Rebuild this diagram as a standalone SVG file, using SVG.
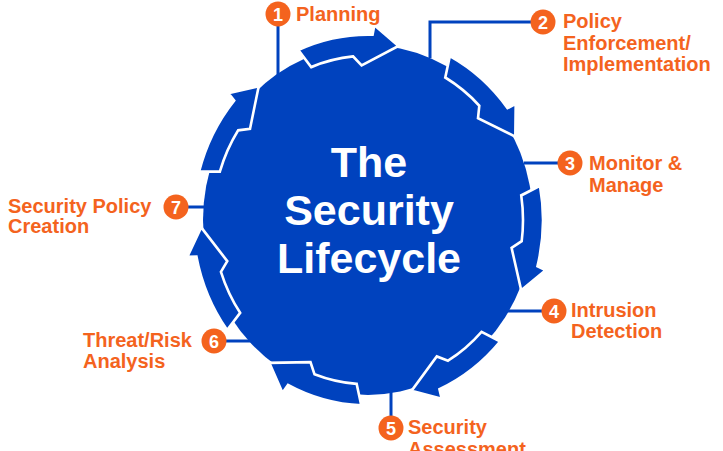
<svg xmlns="http://www.w3.org/2000/svg" xmlns:xlink="http://www.w3.org/1999/xlink" width="723" height="451" viewBox="0 0 723 451">
<style>
.blue{fill:#0042BE}
.arr{fill:#0042BE;stroke:#fff;stroke-width:2.6;stroke-linejoin:miter}
.conn{stroke:#0042BE;stroke-width:3;fill:none}
.badge{fill:#F4631E}
.lbl{font-family:"Liberation Sans",Arial,Helvetica,sans-serif;font-weight:bold;font-size:20px;fill:#F4631E}
.num{font-family:"Liberation Sans",Arial,Helvetica,sans-serif;font-weight:bold;font-size:18px;fill:#fff;text-anchor:middle}
.title{font-family:"Liberation Sans",Arial,Helvetica,sans-serif;font-weight:bold;font-size:43px;fill:#fff;text-anchor:middle}
</style>
<defs>
<path id="arr" d="M0,-175 A175,175 0 0 1 73.96,-158.6 L79.2,-166.1 L93.4,-138.4 L52.3,-136.3 L47.9,-147.4 A155,155 0 0 0 5.4,-154.9 Z"/>
</defs>
<rect width="723" height="451" fill="#fff"/>
<g id="connectors">
<path class="conn" d="M278,26 V76"/>
<path class="conn" d="M430,58 V22 H532"/>
<path class="conn" d="M524,163 H558"/>
<path class="conn" d="M506,311 H542"/>
<path class="conn" d="M391,388 V416"/>
<path class="conn" d="M226,341 H256"/>
<path class="conn" d="M188,207 H212"/>
</g>
<g id="lifecycle">
<g transform="translate(368,220) scale(1,1.06)">
<circle class="blue" r="165"/>
<use xlink:href="#arr" class="arr" transform="rotate(336.5)"/>
<use xlink:href="#arr" class="arr" transform="rotate(27.9)"/>
<use xlink:href="#arr" class="arr" transform="rotate(79.4)"/>
<use xlink:href="#arr" class="arr" transform="rotate(130.9)"/>
<use xlink:href="#arr" class="arr" transform="rotate(182.2)"/>
<use xlink:href="#arr" class="arr" transform="rotate(233.6)"/>
<use xlink:href="#arr" class="arr" transform="rotate(285.1)"/>
</g>
<text class="title" x="369" y="177">The</text>
<text class="title" x="369" y="225">Security</text>
<text class="title" x="369" y="273">Lifecycle</text>
</g>
<g id="n1">
<circle class="badge" cx="278" cy="14" r="12.5"/>
<text class="num" x="278" y="20.5">1</text>
<text class="lbl" x="296" y="21">Planning</text>
</g>
<g id="n2">
<circle class="badge" cx="543" cy="22" r="12.5"/>
<text class="num" x="543" y="28.5">2</text>
<text class="lbl" x="563" y="28">Policy</text>
<text class="lbl" x="563" y="50">Enforcement/</text>
<text class="lbl" x="563" y="71">Implementation</text>
</g>
<g id="n3">
<circle class="badge" cx="570" cy="163" r="12.5"/>
<text class="num" x="570" y="169.5">3</text>
<text class="lbl" x="589" y="170">Monitor &amp;</text>
<text class="lbl" x="589" y="192">Manage</text>
</g>
<g id="n4">
<circle class="badge" cx="554" cy="311" r="12.5"/>
<text class="num" x="554" y="317.5">4</text>
<text class="lbl" x="571" y="317">Intrusion</text>
<text class="lbl" x="571" y="338">Detection</text>
</g>
<g id="n5">
<circle class="badge" cx="391" cy="428" r="12.5"/>
<text class="num" x="391" y="434.5">5</text>
<text class="lbl" x="408" y="434">Security</text>
<text class="lbl" x="408" y="456">Assessment</text>
</g>
<g id="n6">
<circle class="badge" cx="214" cy="341" r="12.5"/>
<text class="num" x="214" y="347.5">6</text>
<text class="lbl" x="83" y="347">Threat/Risk</text>
<text class="lbl" x="83" y="368">Analysis</text>
</g>
<g id="n7">
<circle class="badge" cx="176" cy="207" r="12.5"/>
<text class="num" x="176" y="213.5">7</text>
<text class="lbl" x="8" y="213">Security Policy</text>
<text class="lbl" x="8" y="233">Creation</text>
</g>
</svg>
